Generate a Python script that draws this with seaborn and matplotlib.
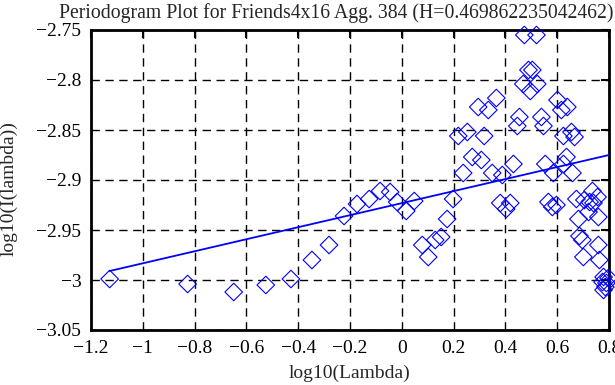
import numpy as np
import pandas as pd
import matplotlib
matplotlib.use("Agg")
import matplotlib.pyplot as plt
from matplotlib.ticker import FuncFormatter
import seaborn as sns

# periodogram points, log10(lambda) vs log10(I(lambda))
log_lambda = [
    -1.128, -0.827, -0.649, -0.525, -0.428, -0.347, -0.281, -0.223, -0.173, -0.126,
    -0.084, -0.045, -0.018, 0.017, 0.048, 0.079, 0.102, 0.129, 0.152, 0.175,
    0.198, 0.218, 0.253, 0.318, 0.272, 0.307, 0.237, 0.349, 0.295, 0.334,
    0.365, 0.388, 0.431, 0.380, 0.419, 0.403, 0.473, 0.520, 0.489, 0.504,
    0.469, 0.523, 0.496, 0.454, 0.446, 0.539, 0.547, 0.554, 0.585, 0.566,
    0.581, 0.597, 0.601, 0.639, 0.616, 0.624, 0.655, 0.667, 0.636, 0.624,
    0.659, 0.674, 0.705, 0.736, 0.725, 0.740, 0.756, 0.682, 0.721, 0.759,
    0.686, 0.697, 0.759, 0.701, 0.763, 0.779, 0.775, 0.790, 0.779, 0.798,
    0.786,
]
log_I = [
    -2.999, -3.004, -3.012, -3.005, -2.999, -2.980, -2.965, -2.936, -2.924, -2.919,
    -2.911, -2.912, -2.922, -2.931, -2.921, -2.965, -2.977, -2.960, -2.957, -2.939,
    -2.919, -2.856, -2.852, -2.856, -2.877, -2.880, -2.893, -2.893, -2.827, -2.830,
    -2.818, -2.895, -2.884, -2.923, -2.923, -2.929, -2.755, -2.755, -2.790, -2.790,
    -2.804, -2.804, -2.811, -2.837, -2.846, -2.837, -2.846, -2.884, -2.893, -2.922,
    -2.927, -2.925, -2.820, -2.827, -2.830, -2.856, -2.852, -2.857, -2.877, -2.884,
    -2.893, -2.919, -2.920, -2.911, -2.922, -2.923, -2.917, -2.939, -2.932, -2.937,
    -2.956, -2.960, -2.965, -2.977, -2.980, -2.997, -3.002, -3.003, -3.010, -2.998,
    -3.007,
]

# least squares fit line end points (slope = 1 - 2H)
fit_x = [-1.128, 0.8]
fit_y = [-2.991, -2.875]

title = "Periodogram Plot for Friends4x16 Agg. 384 (H=0.469862235042462)"
x_ticks = [-1.2, -1.0, -0.8, -0.6, -0.4, -0.2, 0.0, 0.2, 0.4, 0.6, 0.8]
y_ticks = [-3.05, -3.0, -2.95, -2.9, -2.85, -2.8, -2.75]

sns.set_style("white")
plt.rcParams['font.family'] = ['Liberation Serif', 'DejaVu Serif']

df = pd.DataFrame({"x": log_lambda, "y": log_I})

fig = plt.figure(figsize=(6.15, 3.85), dpi=100)
ax = fig.add_axes([91 / 615, 55 / 385, 518 / 615, 300 / 385])

sns.scatterplot(data=df, x="x", y="y", ax=ax, marker="D", s=80,
                facecolor="none", edgecolor="#0000ff", linewidth=0.8,
                clip_on=False, zorder=3)
sns.lineplot(x=fit_x, y=fit_y, ax=ax, color="#0000ff", lw=1.3, zorder=4)

ax.set_xlim(-1.2, 0.8)
ax.set_ylim(-3.05, -2.75)
ax.set_xticks(x_ticks)
ax.set_yticks(y_ticks)
fmt = FuncFormatter(lambda v, p: f"{v:g}".replace("-", "\u2212"))
ax.xaxis.set_major_formatter(fmt)
ax.yaxis.set_major_formatter(fmt)

ax.grid(True, color="black", linestyle=(0, (6, 4)), linewidth=1.0)
ax.set_axisbelow(True)
for s in ax.spines.values():
    s.set_linewidth(2.0)
    s.set_color("black")
ax.tick_params(direction="in", length=6, width=1.5, top=True, right=True,
               labelsize=14, pad=7, colors="black")

ax.set_xlabel("log10(Lambda)", fontsize=14, va="top")
ax.xaxis.set_label_coords(0.5, -0.115)
ax.set_ylabel("log10(I(lambda))", fontsize=14, va="center", ha="center")
ax.yaxis.set_label_coords(-0.158, 0.47)
fig.text(59 / 615, 1 - 18 / 385, title, fontsize=14.2, ha="left", va="baseline")

fig.savefig("out.png", dpi=100)
